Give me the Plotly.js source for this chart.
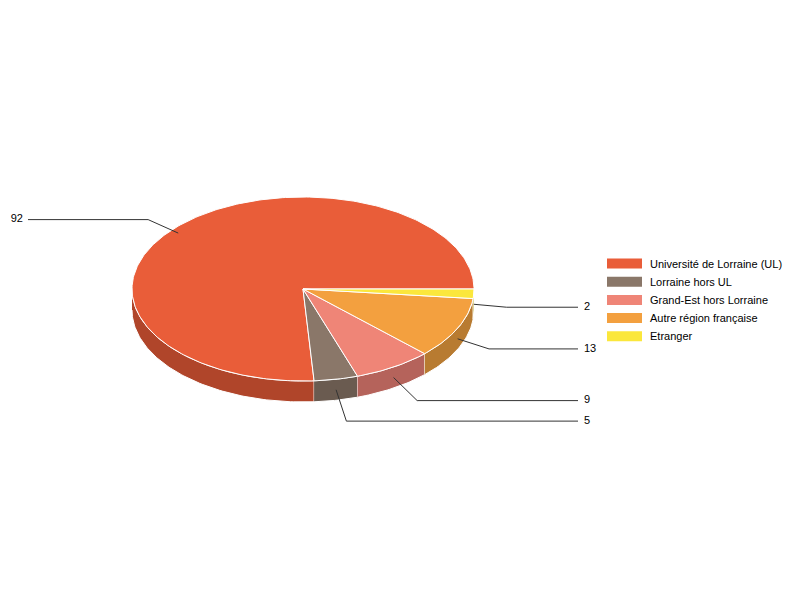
<!DOCTYPE html>
<html>
<head>
<meta charset="utf-8">
<script src="https://cdn.plot.ly/plotly-3.0.1.min.js"></script>
<style>
  html, body { margin: 0; padding: 0; background: #ffffff; }
  #chart { width: 800px; height: 600px; }
</style>
</head>
<body>
<div id="chart"></div>
<script>
// data
var categories = ["Université de Lorraine (UL)", "Lorraine hors UL", "Grand-Est hors Lorraine", "Autre région française", "Etranger"];
var values = [92, 5, 9, 13, 2];
var topColors = ["#e95d39", "#8a7769", "#ef8577", "#f3a03f", "#fbe73c"];
var sideColors = ["#b0452a", "#6a5b50", "#b5635b", "#b87b31", "#bdae2d"];

// pie geometry (pixels)
var cx = 303, cy = 289, rx = 171, ry = 92, depth = 21;

function pt(a, r, dy) {
    var rad = a * Math.PI / 180;
    return [cx + rx * r * Math.cos(rad), cy - ry * r * Math.sin(rad) + (dy || 0)];
}

function arc(a1, a2, dy) {
    var xs = [], ys = [];
    var n = Math.max(2, Math.ceil(Math.abs(a2 - a1)));
    for (var i = 0; i <= n; i++) {
        var p = pt(a1 + (a2 - a1) * i / n, 1, dy);
        xs.push(p[0]); ys.push(p[1]);
    }
    return { x: xs, y: ys };
}

var total = values.reduce(function (s, v) { return s + v; }, 0);
var starts = [], ends = [];
var acc = 0;
values.forEach(function (v) {
    starts.push(acc / total * 360);
    acc += v;
    ends.push(acc / total * 360);
});

var traces = [];

// side walls (front half only)
values.forEach(function (v, i) {
    var a1 = Math.max(starts[i], 180), a2 = Math.min(ends[i], 360);
    if (a2 <= a1) return;
    var top = arc(a1, a2, 0);
    var bot = arc(a2, a1, depth);
    traces.push({
        x: top.x.concat(bot.x), y: top.y.concat(bot.y),
        type: 'scatter', mode: 'lines', fill: 'toself',
        fillcolor: sideColors[i], line: { color: '#ffffff', width: 1 },
        hoverinfo: 'skip', showlegend: false
    });
});

// top faces
values.forEach(function (v, i) {
    var a = arc(starts[i], ends[i], 0);
    traces.push({
        x: [cx].concat(a.x, [cx]), y: [cy].concat(a.y, [cy]),
        type: 'scatter', mode: 'lines', fill: 'toself',
        fillcolor: topColors[i], line: { color: '#ffffff', width: 1 },
        hoverinfo: 'skip', showlegend: false
    });
});

// leader lines and value labels
values.forEach(function (v, i) {
    var mid = (starts[i] + ends[i]) / 2;
    var front = mid > 180;
    var tip = pt(mid, 1, front ? depth / 2 : depth / 3);
    var dx = tip[0] - cx, dy = tip[1] - cy;
    var len = Math.sqrt(dx * dx + dy * dy);
    var elbow = [tip[0] + dx / len * 33, tip[1] + dy / len * 33];
    var right = dx >= 0;
    var endX = right ? 578 : 28;
    traces.push({
        x: [tip[0], elbow[0], endX], y: [tip[1], elbow[1], elbow[1]],
        type: 'scatter', mode: 'lines',
        line: { color: '#333333', width: 1 },
        hoverinfo: 'skip', showlegend: false
    });
    traces.push({
        x: [right ? endX + 6 : endX - 5], y: [elbow[1]],
        type: 'scatter', mode: 'text', text: [String(v)],
        textposition: right ? 'middle right' : 'middle left',
        textfont: { family: 'Liberation Sans, Arial, sans-serif', size: 11, color: '#000000' },
        hoverinfo: 'skip', showlegend: false
    });
});

// legend
var shapes = [], annotations = [];
categories.forEach(function (c, i) {
    var yc = 263.5 + i * 18.2;
    shapes.push({
        type: 'rect', xref: 'x', yref: 'y',
        x0: 607, x1: 642, y0: yc - 5, y1: yc + 5,
        fillcolor: topColors[i], line: { width: 0 }
    });
    annotations.push({
        x: 648, y: yc, xref: 'x', yref: 'y', text: c, showarrow: false,
        xanchor: 'left', yanchor: 'middle',
        font: { family: 'Liberation Sans, Arial, sans-serif', size: 11, color: '#000000' }
    });
});

var layout = {
    width: 800, height: 600,
    margin: { l: 0, r: 0, t: 0, b: 0 },
    paper_bgcolor: '#ffffff', plot_bgcolor: '#ffffff',
    xaxis: { range: [0, 800], visible: false, fixedrange: true },
    yaxis: { range: [600, 0], visible: false, fixedrange: true },
    shapes: shapes,
    annotations: annotations,
    showlegend: false
};

var config = { displayModeBar: false, staticPlot: true };

Plotly.newPlot('chart', traces, layout, config);
</script>
</body>
</html>
